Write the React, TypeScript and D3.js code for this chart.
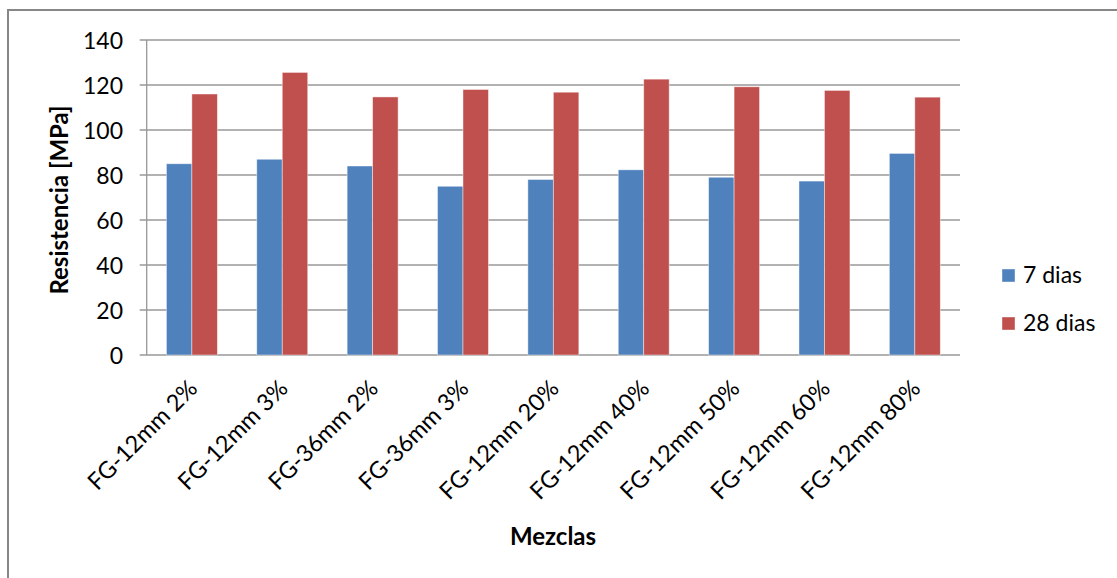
import React from "react";
import * as d3 from "d3";

const categories = [
  "FG-12mm 2%",
  "FG-12mm 3%",
  "FG-36mm 2%",
  "FG-36mm 3%",
  "FG-12mm 20%",
  "FG-12mm 40%",
  "FG-12mm 50%",
  "FG-12mm 60%",
  "FG-12mm 80%",
];
const seriesNames = ["7 dias", "28 dias"];
const dias7 = [85, 87, 84, 75, 78, 82.3, 79, 77.3, 89.6];
const dias28 = [116, 125.6, 114.7, 118, 116.8, 122.6, 119.2, 117.6, 114.6];
const yTicks = [0, 20, 40, 60, 80, 100, 120, 140];
const colors = ["#4F81BD", "#C0504D"];

const W = 1117;
const H = 578;
const FONT = "Lato, 'Open Sans', sans-serif";

export default function App() {
  const left = 146.7;
  const right = 960;
  const top = 40;
  const bottom = 355;

  const y = d3.scaleLinear().domain([0, 140]).range([bottom, top]);
  const x = d3
    .scaleBand<string>()
    .domain(categories)
    .range([left, right])
    .paddingInner(0.436)
    .paddingOuter(0.218);
  const xs = d3
    .scaleBand<string>()
    .domain(seriesNames)
    .range([0, x.bandwidth()])
    .padding(0);

  const series = [dias7, dias28];

  return (
    <svg
      width={W}
      height={H}
      style={{ position: "absolute", left: 0, top: 0, background: "#fff" }}
      fontFamily={FONT}
    >
      <rect x={0} y={0} width={W} height={H} fill="#fff" />
      <rect x={8} y={10} width={1130} height={600} fill="none" stroke="#878787" strokeWidth={2} />

      {/* gridlines */}
      {yTicks.map((t) => (
        <line
          key={"g" + t}
          x1={left - 7}
          x2={right}
          y1={y(t)}
          y2={y(t)}
          stroke="#989898"
          strokeWidth={1.3}
        />
      ))}
      {/* y axis */}
      <line x1={left} x2={left} y1={top} y2={bottom} stroke="#989898" strokeWidth={1.3} />

      {/* bars */}
      {categories.map((c, i) =>
        series.map((s, j) => (
          <rect
            key={c + j}
            x={(x(c) as number) + (xs(seriesNames[j]) as number)}
            y={y(s[i])}
            width={xs.bandwidth()}
            height={bottom - y(s[i])}
            fill={colors[j]}
            stroke="#ffffff"
            strokeOpacity={0.55}
            strokeWidth={0.8}
          />
        ))
      )}

      {/* y tick labels */}
      {yTicks.map((t) => (
        <text
          key={"t" + t}
          x={123}
          y={y(t)}
          textAnchor="end"
          dominantBaseline="central"
          fontSize={23}
          fill="#000"
        >
          {t}
        </text>
      ))}

      {/* x category labels */}
      {categories.map((c) => {
        const cx = (x(c) as number) + x.bandwidth() / 2;
        return (
          <text
            key={"l" + c}
            transform={`translate(${cx + 7},${390}) rotate(-45)`}
            textAnchor="end"
            fontSize={23.5}
            fill="#000"
          >
            {c}
          </text>
        );
      })}

      {/* axis titles */}
      <text
        transform={`translate(${68},${200}) rotate(-90)`}
        textAnchor="middle"
        fontSize={24}
        fontWeight="bold"
        fill="#000"
      >
        Resistencia [MPa]
      </text>
      <text x={553} y={545} textAnchor="middle" fontSize={24} fontWeight="bold" fill="#000">
        Mezclas
      </text>

      {/* legend */}
      {seriesNames.map((n, j) => (
        <g key={"lg" + n} transform={`translate(1002,${269 + j * 48})`}>
          <rect x={0} y={0} width={13} height={13} fill={colors[j]} stroke="#fff" strokeOpacity={0.5} strokeWidth={0.8} />
          <text x={21} y={13.5} fontSize={23} fill="#000">
            {n}
          </text>
        </g>
      ))}
    </svg>
  );
}
